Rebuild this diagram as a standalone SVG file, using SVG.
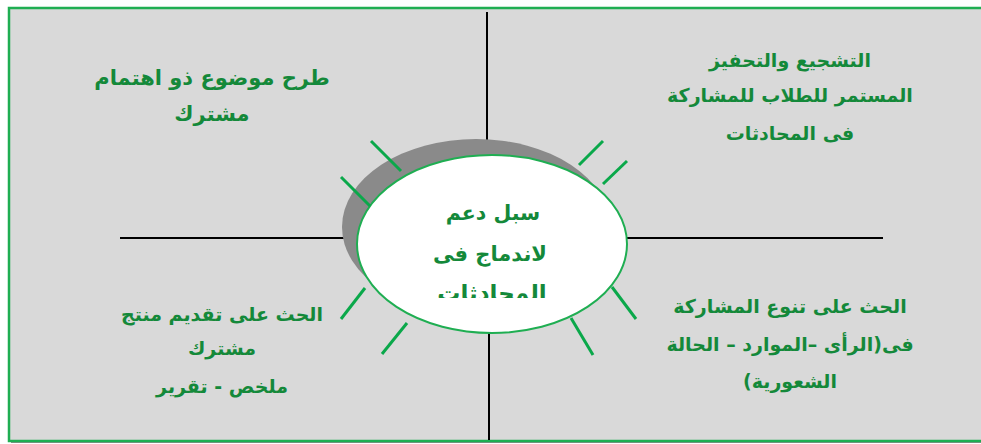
<svg xmlns="http://www.w3.org/2000/svg" width="981" height="444" viewBox="0 0 981 444">
<style>
.t{font-family:"DejaVu Sans",sans-serif;font-weight:bold;font-size:19px;fill:#14893a;text-anchor:middle;direction:rtl}
.ln{stroke:#000;stroke-width:2}
.tick{stroke:#0aa84a;stroke-width:3;stroke-linecap:butt}
</style>
<defs>
<clipPath id="ec"><rect x="350" y="150" width="290" height="148"/></clipPath>
</defs>
<rect x="0" y="0" width="981" height="444" fill="#ffffff"/>
<rect x="11" y="10" width="980" height="433" fill="#8c8c8c"/>
<rect x="9" y="8" width="980" height="433" fill="#d9d9d9" stroke="#1fae52" stroke-width="2.5"/>
<g id="connectors">
<line class="ln" x1="487" y1="12" x2="487" y2="156"/>
<line class="ln" x1="489" y1="332" x2="489" y2="440"/>
<line class="ln" x1="120" y1="238" x2="358" y2="238"/>
<line class="ln" x1="626" y1="238" x2="883" y2="238"/>
</g>
<g id="center">
<ellipse cx="476" cy="227" rx="134" ry="88" fill="#8a8a8a"/>
<ellipse cx="492" cy="244" rx="135" ry="89" fill="#ffffff" stroke="#1fae52" stroke-width="2"/>
<g clip-path="url(#ec)">
<text class="t" x="493" y="220" style="font-size:20.5px">سبل دعم</text>
<text class="t" x="490" y="261" style="font-size:21px">لاندماج فى</text>
<text class="t" x="492" y="301" style="font-size:23px;font-weight:600">المحادثات</text>
</g>
</g>
<g id="rays">
<line class="tick" x1="371" y1="141" x2="401" y2="171"/>
<line class="tick" x1="341" y1="177" x2="370" y2="206"/>
<line class="tick" x1="603" y1="141" x2="579" y2="165"/>
<line class="tick" x1="627" y1="161" x2="603" y2="184"/>
<line class="tick" x1="365" y1="288" x2="341" y2="319"/>
<line class="tick" x1="407" y1="323" x2="382" y2="354"/>
<line class="tick" x1="612" y1="287" x2="636" y2="319"/>
<line class="tick" x1="571" y1="318" x2="593" y2="355"/>
</g>
<g id="top-left">
<text class="t" x="212" y="85" style="font-size:21px">طرح موضوع ذو اهتمام</text>
<text class="t" x="212" y="121" style="font-size:21px">مشترك</text>
</g>
<g id="top-right">
<text class="t" x="790" y="67">التشجيع والتحفيز</text>
<text class="t" x="790" y="102">المستمر للطلاب للمشاركة</text>
<text class="t" x="790" y="140">فى المحادثات</text>
</g>
<g id="bottom-left">
<text class="t" x="222" y="321">الحث على تقديم منتج</text>
<text class="t" x="222" y="355">مشترك</text>
<text class="t" x="222" y="393">ملخص - تقرير</text>
</g>
<g id="bottom-right">
<text class="t" x="790" y="313">الحث على تنوع المشاركة</text>
<text class="t" x="790" y="351">فى(الرأى –الموارد – الحالة</text>
<text class="t" x="790" y="388">الشعورية)</text>
</g>
</svg>
